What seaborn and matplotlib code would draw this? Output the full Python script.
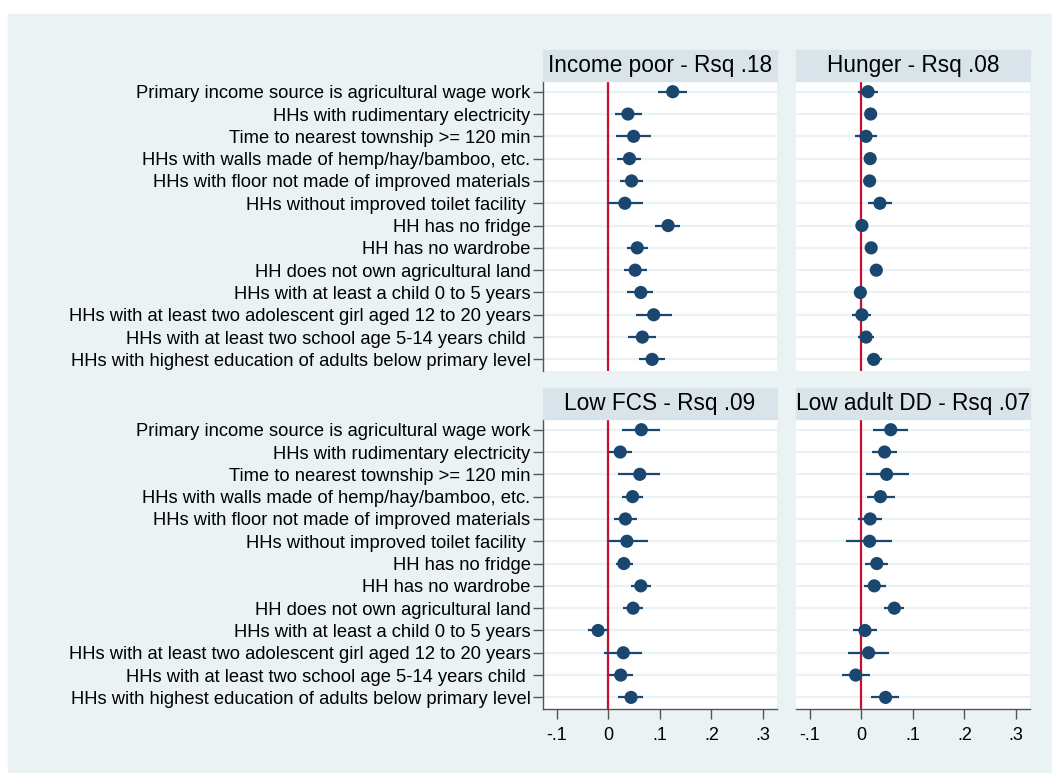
import numpy as np
import pandas as pd
import matplotlib
matplotlib.use("Agg")
import matplotlib.pyplot as plt
import seaborn as sns
from matplotlib.patches import Rectangle

# -----------------------------
# DATA
# -----------------------------
variables = [
    "Primary income source is agricultural wage work",
    "HHs with rudimentary electricity",
    "Time to nearest township >= 120 min",
    "HHs with walls made of hemp/hay/bamboo, etc.",
    "HHs with floor not made of improved materials",
    "HHs without improved toilet facility ",
    "HH has no fridge",
    "HH has no wardrobe",
    "HH does not own agricultural land",
    "HHs with at least a child 0 to 5 years",
    "HHs with at least two adolescent girl aged 12 to 20 years",
    "HHs with at least two school age 5-14 years child ",
    "HHs with highest education of adults below primary level",
]

panel_titles = ["Income poor - Rsq .18", "Hunger - Rsq .08",
                "Low FCS - Rsq .09", "Low adult DD - Rsq .07"]

income_coef = [0.125, 0.038, 0.049, 0.041, 0.045, 0.032, 0.116, 0.056, 0.052, 0.063, 0.088, 0.066, 0.085]
income_lo = [0.096, 0.012, 0.015, 0.017, 0.023, -0.001, 0.091, 0.036, 0.030, 0.037, 0.054, 0.039, 0.060]
income_hi = [0.153, 0.066, 0.082, 0.063, 0.067, 0.067, 0.140, 0.077, 0.075, 0.087, 0.123, 0.092, 0.109]

hunger_coef = [0.013, 0.018, 0.009, 0.017, 0.016, 0.036, 0.001, 0.019, 0.029, -0.002, 0.001, 0.009, 0.024]
hunger_lo = [-0.006, 0.011, -0.012, 0.010, 0.009, 0.012, -0.006, 0.012, 0.022, -0.009, -0.018, -0.006, 0.010]
hunger_hi = [0.032, 0.025, 0.031, 0.024, 0.023, 0.060, 0.008, 0.026, 0.036, 0.005, 0.019, 0.025, 0.040]

fcs_coef = [0.064, 0.023, 0.061, 0.047, 0.033, 0.036, 0.030, 0.063, 0.048, -0.020, 0.029, 0.024, 0.044]
fcs_lo = [0.026, 0.001, 0.019, 0.026, 0.010, -0.001, 0.014, 0.043, 0.029, -0.039, -0.008, 0.001, 0.019]
fcs_hi = [0.101, 0.046, 0.101, 0.068, 0.055, 0.076, 0.047, 0.082, 0.068, -0.001, 0.065, 0.048, 0.068]

dd_coef = [0.057, 0.045, 0.049, 0.037, 0.017, 0.016, 0.030, 0.025, 0.064, 0.007, 0.014, -0.011, 0.047]
dd_lo = [0.023, 0.021, 0.008, 0.010, -0.007, -0.029, 0.007, 0.005, 0.043, -0.016, -0.026, -0.037, 0.019]
dd_hi = [0.091, 0.069, 0.092, 0.065, 0.040, 0.060, 0.052, 0.047, 0.082, 0.030, 0.054, 0.016, 0.074]

xticks = [-0.1, 0, 0.1, 0.2, 0.3]
xtick_labels = ["-.1", "0", ".1", ".2", ".3"]

# -----------------------------
# LONG TABLE
# -----------------------------
frames = []
for title, c, lo, hi in zip(panel_titles,
                            [income_coef, hunger_coef, fcs_coef, dd_coef],
                            [income_lo, hunger_lo, fcs_lo, dd_lo],
                            [income_hi, hunger_hi, fcs_hi, dd_hi]):
    frames.append(pd.DataFrame({"panel": title, "variable": variables,
                                "row": np.arange(len(variables)),
                                "coef": c, "lo": lo, "hi": hi}))
df = pd.concat(frames, ignore_index=True)

# -----------------------------
# STYLE
# -----------------------------
sns.set_theme(style="white")
plt.rcParams["font.family"] = ["Liberation Sans", "DejaVu Sans"]

BG = "#eaf2f3"
STRIP = "#d8e4ea"
NAVY = "#1a476f"
RED = "#c8102e"
AXC = "#555555"

W, H = 1052, 773
fig = plt.figure(figsize=(W / 100, H / 100), dpi=100)
fig.patch.set_facecolor("white")
fig.patches.append(Rectangle((8 / W, 0), 1 - 8 / W, 1 - 14 / H,
                             transform=fig.transFigure, color=BG, zorder=-10))

col_left = [543, 796]
row_top = [81, 419]
panel_w, panel_h, strip_h = 234, 290, 31

for i, title in enumerate(panel_titles):
    r, c = divmod(i, 2)
    x0 = col_left[c]
    y0 = row_top[r]
    ax = fig.add_axes([x0 / W, 1 - (y0 + panel_h) / H, panel_w / W, panel_h / H])
    ax.set_facecolor("white")
    sub = df[df["panel"] == title]

    for y in sub["row"]:
        ax.axhline(y, color=BG, lw=1.6, zorder=0)
    ax.axvline(0, color=RED, lw=1.6, zorder=1)
    ax.hlines(sub["row"], sub["lo"], sub["hi"], color=NAVY, lw=1.6, zorder=2)
    sns.scatterplot(data=sub, x="coef", y="row", ax=ax, s=90, color=NAVY,
                    edgecolor="none", zorder=3, legend=False)

    ax.set_xlim(-0.127, 0.3275)
    ax.set_ylim(12.52, -0.48)
    ax.set_xlabel("")
    ax.set_ylabel("")

    for s in ["top", "right"]:
        ax.spines[s].set_visible(False)
    ax.spines["left"].set_visible(c == 0)
    ax.spines["bottom"].set_visible(r == 1)
    for s in ["left", "bottom"]:
        ax.spines[s].set_color(AXC)
        ax.spines[s].set_linewidth(1.0)

    ax.set_yticks(sub["row"])
    if c == 0:
        ax.set_yticklabels(variables)
        ax.tick_params(axis="y", left=True, length=7, width=1, color=AXC,
                       pad=2, labelsize=13.2, labelcolor="black")
    else:
        ax.tick_params(axis="y", left=False, labelleft=False)

    ax.set_xticks(xticks)
    if r == 1:
        ax.set_xticklabels(xtick_labels)
        ax.tick_params(axis="x", bottom=True, length=7, width=1, color=AXC,
                       pad=6, labelsize=13, labelcolor="black")
    else:
        ax.tick_params(axis="x", bottom=False, labelbottom=False)

    # strip title
    ax.add_patch(Rectangle((0, 1), 1, strip_h / panel_h, transform=ax.transAxes,
                           color=STRIP, clip_on=False, zorder=5))
    ax.text(0.5, 1 + strip_h / panel_h / 2, title, transform=ax.transAxes,
            ha="center", va="center", fontsize=16.3, color="black", zorder=6)

fig.savefig("out.png", dpi=100)
